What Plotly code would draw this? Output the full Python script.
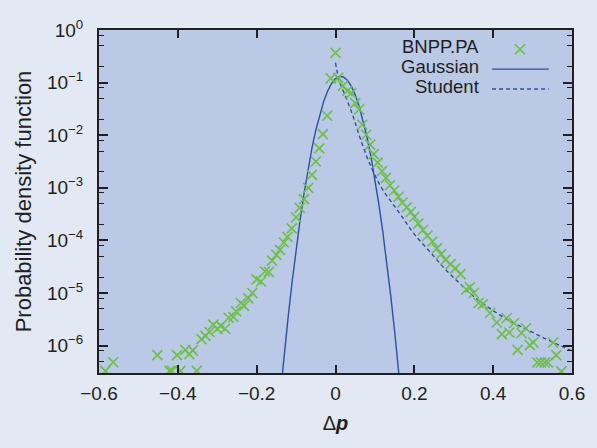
import plotly.graph_objects as go

dp_emp = [-0.584, -0.564, -0.452, -0.421, -0.415, -0.402, -0.393, -0.381, -0.371, -0.362,
          -0.352, -0.340, -0.330, -0.320, -0.310, -0.300, -0.291, -0.280, -0.271, -0.259,
          -0.252, -0.240, -0.232, -0.221, -0.211, -0.200, -0.189, -0.179, -0.169, -0.161,
          -0.150, -0.141, -0.131, -0.122, -0.111, -0.100, -0.091, -0.080, -0.069, -0.060,
          -0.050, -0.041, -0.032, -0.021, -0.012,
          0.000, 0.007, 0.019, 0.030, 0.040, 0.050, 0.060, 0.068, 0.078, 0.088,
          0.097, 0.107, 0.118, 0.128, 0.138, 0.149, 0.160, 0.170, 0.181, 0.191,
          0.200, 0.210, 0.222, 0.233, 0.246, 0.257, 0.268, 0.279, 0.292, 0.304,
          0.317, 0.332, 0.341, 0.351, 0.363, 0.374, 0.392, 0.409, 0.422, 0.434,
          0.441, 0.453, 0.462, 0.472, 0.483, 0.493, 0.502, 0.512, 0.521, 0.531,
          0.539, 0.552, 0.560, 0.573]
pdf_emp = [3.31e-7, 4.83e-7, 6.61e-7, 3.31e-7, 3.31e-7, 6.61e-7, 3.31e-7, 8.32e-7, 6.92e-7, 8.13e-7,
           3.31e-7, 1.33e-6, 1.53e-6, 1.82e-6, 2.51e-6, 2.09e-6, 2.37e-6, 2.09e-6, 3.39e-6, 3.51e-6,
           4.47e-6, 6.46e-6, 5.69e-6, 7.94e-6, 1.00e-5, 1.82e-5, 1.66e-5, 2.57e-5, 2.51e-5, 4.12e-5,
           5.31e-5, 6.61e-5, 9.12e-5, 1.17e-4, 1.70e-4, 2.75e-4, 4.17e-4, 6.10e-4, 1.00e-3, 1.76e-3,
           3.16e-3, 5.62e-3, 1.05e-2, 2.34e-2, 0.120,
           0.367, 0.123, 0.0871, 0.0692, 0.0631, 0.0407, 0.0309, 0.0158, 0.0102, 6.61e-3,
           4.37e-3, 3.02e-3, 2.09e-3, 1.55e-3, 1.12e-3, 8.91e-4, 6.76e-4, 5.25e-4, 4.27e-4, 3.47e-4,
           2.82e-4, 2.09e-4, 1.58e-4, 1.23e-4, 9.55e-5, 7.08e-5, 5.50e-5, 4.27e-5, 3.55e-5, 2.95e-5,
           2.29e-5, 1.17e-5, 1.29e-5, 1.00e-5, 6.46e-6, 6.17e-6, 4.17e-6, 2.75e-6, 1.66e-6, 3.31e-6,
           1.78e-6, 2.69e-6, 8.32e-7, 1.74e-6, 2.14e-6, 1.02e-6, 1.15e-6, 4.79e-7, 4.79e-7, 4.79e-7,
           4.79e-7, 1.15e-6, 6.61e-7, 3.24e-7]

# Gaussian fit
dp_gauss = [-0.14, -0.13, -0.12, -0.11, -0.10, -0.09, -0.08, -0.07, -0.06, -0.05, -0.04,
            -0.03, -0.02, -0.01, 0.00, 0.01, 0.02, 0.03, 0.04, 0.05, 0.06, 0.07, 0.08,
            0.09, 0.10, 0.11, 0.12, 0.13, 0.14, 0.15, 0.16, 0.17]
pdf_gauss = [1.19e-7, 6.92e-7, 3.57e-6, 1.64e-5, 6.65e-5, 2.40e-4, 7.71e-4, 2.19e-3, 5.55e-3,
             1.245e-2, 2.48e-2, 4.39e-2, 6.90e-2, 9.62e-2, 0.1192, 0.1312, 0.128, 0.111, 0.0855,
             0.0585, 0.0355, 0.0191, 9.14e-3, 3.88e-3, 1.466e-3, 4.91e-4, 1.46e-4, 3.85e-5,
             9.02e-6, 1.88e-6, 3.48e-7, 5.7e-8]

# Student fit (right branch only)
dp_student = [0.000, 0.010, 0.025, 0.045, 0.060, 0.078, 0.095, 0.120, 0.145, 0.170, 0.200,
              0.240, 0.275, 0.310, 0.350, 0.395, 0.435, 0.485, 0.530, 0.570, 0.600]
pdf_student = [0.240, 0.105, 0.0562, 0.0224, 0.0100, 4.17e-3, 2.09e-3, 9.12e-4, 5.01e-4,
               2.75e-4, 1.32e-4, 6.03e-5, 3.02e-5, 1.66e-5, 8.71e-6, 4.90e-6, 3.16e-6,
               2.04e-6, 1.38e-6, 1.00e-6, 7.94e-7]

x_ticks = [-0.6, -0.4, -0.2, 0, 0.2, 0.4, 0.6]
y_ticks = [1, 1e-1, 1e-2, 1e-3, 1e-4, 1e-5, 1e-6]
y_ticktext = ["10<sup>0</sup>", "10<sup>\u22121</sup>", "10<sup>\u22122</sup>", "10<sup>\u22123</sup>",
              "10<sup>\u22124</sup>", "10<sup>\u22125</sup>", "10<sup>\u22126</sup>"]
y_minor = [m * 10.0 ** k for k in range(-7, 0) for m in (2, 5, 8)]

legend_names = ["BNPP.PA", "Gaussian", "Student"]

GREEN = "#6dbf47"
BLUE = "#2f4fa3"
INK = "#231f20"
FONT = "Liberation Sans, Arial, sans-serif"

fig = go.Figure()

fig.add_trace(go.Scatter(x=dp_gauss, y=pdf_gauss, mode="lines",
                         line=dict(color=BLUE, width=1.4), showlegend=False))
fig.add_trace(go.Scatter(x=dp_student, y=pdf_student, mode="lines", line_shape="spline",
                         line=dict(color=BLUE, width=1.4, dash="4px,3px"), showlegend=False))
fig.add_trace(go.Scatter(x=dp_emp, y=pdf_emp, mode="markers",
                         marker=dict(symbol="x-thin", size=10, line=dict(width=1.6, color=GREEN)),
                         showlegend=False))

# gnuplot style key: label on the left, sample on the right
fig.add_trace(go.Scatter(x=[0.89], y=[0.944], xaxis="x2", yaxis="y2", mode="markers",
                         marker=dict(symbol="x-thin", size=10, line=dict(width=1.6, color=GREEN)),
                         showlegend=False, hoverinfo="skip"))
fig.add_trace(go.Scatter(x=[0.831, 0.951], y=[0.886, 0.886], xaxis="x2", yaxis="y2", mode="lines",
                         line=dict(color=BLUE, width=1.4), showlegend=False, hoverinfo="skip"))
fig.add_trace(go.Scatter(x=[0.831, 0.951], y=[0.828, 0.828], xaxis="x2", yaxis="y2", mode="lines",
                         line=dict(color=BLUE, width=1.4, dash="4px,3px"), showlegend=False,
                         hoverinfo="skip"))
for name, yy in zip(legend_names, [0.951, 0.893, 0.835]):
    fig.add_annotation(x=0.808, y=yy, xref="x2", yref="y2", text=name, showarrow=False,
                       xanchor="right", yanchor="middle", font=dict(size=18.5, color=INK, family=FONT))

axis_common = dict(showline=True, linecolor=INK, linewidth=2, mirror="ticks",
                   ticks="inside", tickcolor=INK, showgrid=False, zeroline=False,
                   tickfont=dict(size=19, color=INK, family=FONT))

fig.update_layout(
    width=597, height=448,
    margin=dict(l=98.5, r=21.5, t=30, b=75),
    paper_bgcolor="#e2e8f4",
    plot_bgcolor="#b9c9e6",
    font=dict(family=FONT, color=INK),
    xaxis=dict(range=[-0.6, 0.6], tickvals=x_ticks, ticklen=8, tickwidth=1.5,
               ticklabelstandoff=2,
               title=dict(text="\u0394<b><i>p</i></b>", font=dict(size=20, color=INK, family=FONT),
                          standoff=13),
               **axis_common),
    yaxis=dict(type="log", range=[-6.52, 0], tickvals=y_ticks, ticktext=y_ticktext,
               ticklen=9, tickwidth=1.5, ticklabelstandoff=10,
               minor=dict(tickvals=y_minor, ticklen=5, tickwidth=1.2, tickcolor=INK, ticks="inside"),
               title=dict(text="Probability density function",
                          font=dict(size=22, color=INK, family=FONT), standoff=9),
               **axis_common),
    xaxis2=dict(overlaying="x", range=[0, 1], visible=False),
    yaxis2=dict(overlaying="y", range=[0, 1], visible=False),
    showlegend=False,
)

# drop the browser's default body margin so the figure sits at the page corner
fig.write_html("out.html", config={"displayModeBar": False},
               post_script="document.body.style.margin='0';")
